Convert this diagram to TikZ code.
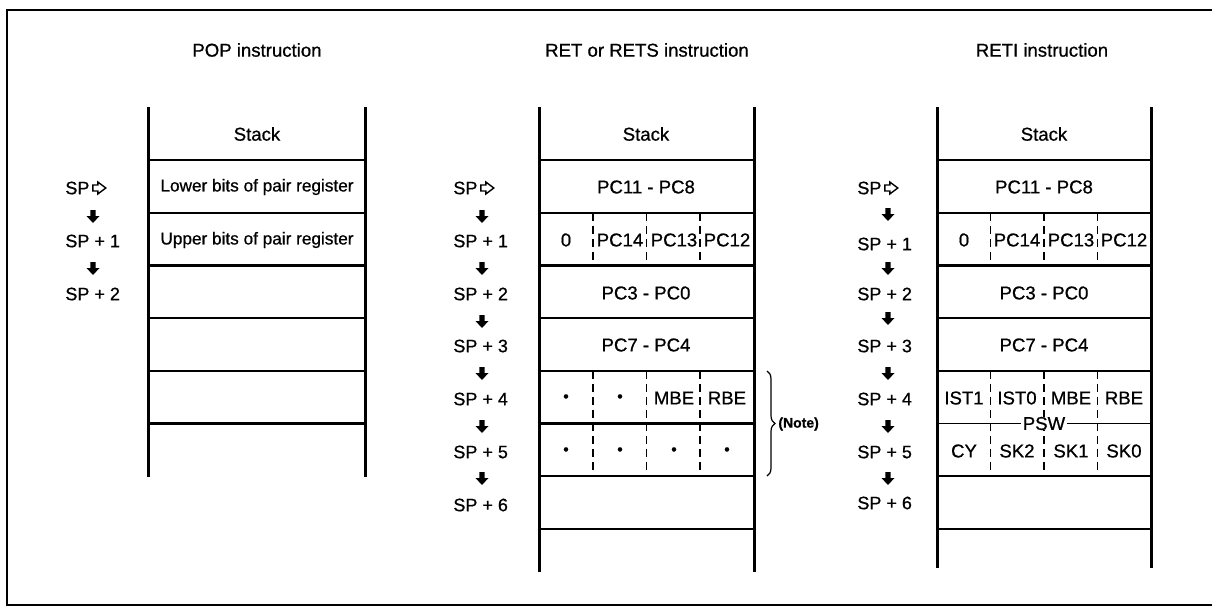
\documentclass[tikz,border=0pt]{standalone}
\usepackage{fontspec}
\setmainfont{Liberation Sans}[FakeBold=0.7]
\usetikzlibrary{decorations.pathreplacing,calc}
\begin{document}
\begin{tikzpicture}[x=0.5pt,y=-0.5pt,
  side/.style={line width=1.5pt},
  hline/.style={line width=1.2pt},
  divline/.style={line width=0.9pt,dash pattern=on 4pt off 2.5pt},
  frameline/.style={line width=1.3pt},
  txt/.style={font=\fontsize{9.3}{10}\selectfont, inner sep=0pt},
  smalltxt/.style={font=\fontsize{8.6}{10}\selectfont, inner sep=0pt},
  titletxt/.style={font=\fontsize{9.3}{10}\selectfont, inner sep=0pt},
  splabel/.style={font=\fontsize{9}{10}\selectfont, inner sep=0pt, anchor=west},
  dottxt/.style={font=\fontsize{8}{9}\selectfont, inner sep=0pt},
  notetxt/.style={font=\bfseries\fontsize{7}{8}\selectfont, inner sep=0pt, anchor=west},
  downarrow/.pic={\fill (-2.6,-6) -- (2.6,-6) -- (2.6,0) -- (6.5,0) -- (0,7) -- (-6.5,0) -- (-2.6,0) -- cycle;},
  hollowarrow/.pic={\draw[line width=0.7pt,line join=miter] (0,-3) -- (5,-3) -- (5,-6) -- (13,0) -- (5,6) -- (5,3) -- (0,3) -- cycle;},
]
\useasboundingbox (0,0) rectangle (1212,607);
% outer frame
\draw[frameline] (1216,10) -- (7,10) -- (7,605) -- (1216,605);

% ---------- Column A: POP ----------
\node[titletxt] (tA) at (257,50) {POP instruction};
\draw[side] (148,107) coordinate (aTL) -- (148,477) coordinate (aBL);
\draw[side] (365,107) coordinate (aTR) -- (365,477) coordinate (aBR);
\foreach \k in {0,...,5} {\draw[hline] (148,{160+52.7*\k}) -- (365,{160+52.7*\k});}
\node[txt] (sA) at (257,134) {Stack};
\node[smalltxt] (a0) at (257,187) {Lower bits of pair register};
\node[smalltxt] (a1) at (257,240) {Upper bits of pair register};
\node[splabel] (la0) at (65,188) {SP};
\pic at ($(la0.east)+(3,0)$) {hollowarrow};
\node[splabel] (la1) at (65,241) {SP + 1};
\node[splabel] (la2) at (65,294) {SP + 2};
\pic at (93,216) {downarrow};
\pic at (93,268) {downarrow};

% ---------- Column B: RET / RETS ----------
\node[titletxt] (tB) at (647,50) {RET or RETS instruction};
\draw[side] (539,107) -- (539,572);
\draw[side] (754,107) -- (754,572);
\foreach \k in {0,...,7} {\draw[hline] (539,{160+52.7*\k}) -- (754,{160+52.7*\k});}
\foreach \i in {1,2,3} {
  \draw[divline] ({539+53.75*\i},212.7) -- ({539+53.75*\i},265.4);
  \draw[divline] ({539+53.75*\i},370.8) -- ({539+53.75*\i},476.2);
}
\node[txt] (sB) at (646,134) {Stack};
\node[txt] (b0) at (646,187) {PC11 - PC8};
\node[txt] (b10) at (566,240) {0};
\node[txt] (b11) at (620,240) {PC14};
\node[txt] (b12) at (674,240) {PC13};
\node[txt] (b13) at (727,240) {PC12};
\node[txt] (b2) at (646,293) {PC3 - PC0};
\node[txt] (b3) at (646,345) {PC7 - PC4};
\node[dottxt] (b40) at (566,398) {\textbullet};
\node[dottxt] (b41) at (620,398) {\textbullet};
\node[txt] (b42) at (674,398) {MBE};
\node[txt] (b43) at (727,398) {RBE};
\node[dottxt] (b50) at (566,451) {\textbullet};
\node[dottxt] (b51) at (620,451) {\textbullet};
\node[dottxt] (b52) at (674,451) {\textbullet};
\node[dottxt] (b53) at (727,451) {\textbullet};
\coordinate (brTop) at (767,371);
\coordinate (brBot) at (767,476);
\draw[line width=0.6pt,decorate,decoration={brace,amplitude=4pt}] (brTop) -- (brBot);
\node[notetxt] (note) at (778,424) {(Note)};
\node[splabel] (lb0) at (453,188) {SP};
\pic at ($(lb0.east)+(3,0)$) {hollowarrow};
\node[splabel] (lb1) at (453,241) {SP + 1};
\node[splabel] (lb2) at (453,294) {SP + 2};
\node[splabel] (lb3) at (453,346) {SP + 3};
\node[splabel] (lb4) at (453,399) {SP + 4};
\node[splabel] (lb5) at (453,452) {SP + 5};
\node[splabel] (lb6) at (453,505) {SP + 6};
\foreach \y in {216,268,321,373,426,478} {\pic at (482,\y) {downarrow};}

% ---------- Column C: RETI ----------
\node[titletxt] (tC) at (1042,50) {RETI instruction};
\draw[side] (937,107) -- (937,568);
\draw[side] (1151,107) -- (1151,568);
\foreach \k in {0,1,2,3,4,6,7} {\draw[hline] (937,{160+52.7*\k}) -- (1151,{160+52.7*\k});}
\draw[line width=0.8pt] (937,423.5) -- (1151,423.5);
\foreach \i in {1,2,3} {
  \draw[divline] ({937+53.5*\i},212.7) -- ({937+53.5*\i},265.4);
  \draw[divline] ({937+53.5*\i},370.8) -- ({937+53.5*\i},476.2);
}
\node[txt] (sC) at (1044,134) {Stack};
\node[txt] (c0) at (1044,187) {PC11 - PC8};
\node[txt] (c10) at (964,240) {0};
\node[txt] (c11) at (1017,240) {PC14};
\node[txt] (c12) at (1071,240) {PC13};
\node[txt] (c13) at (1124,240) {PC12};
\node[txt] (c2) at (1044,293) {PC3 - PC0};
\node[txt] (c3) at (1044,345) {PC7 - PC4};
\node[txt] (c40) at (964,398) {IST1};
\node[txt] (c41) at (1017,398) {IST0};
\node[txt] (c42) at (1071,398) {MBE};
\node[txt] (c43) at (1124,398) {RBE};
\node[txt,fill=white,inner xsep=1pt] (psw) at (1044,423.5) {PSW};
\node[txt] (c50) at (964,451) {CY};
\node[txt] (c51) at (1017,451) {SK2};
\node[txt] (c52) at (1071,451) {SK1};
\node[txt] (c53) at (1124,451) {SK0};
\node[splabel] (lc0) at (857,188) {SP};
\pic at ($(lc0.east)+(3,0)$) {hollowarrow};
\node[splabel] (lc1) at (857,244) {SP + 1};
\node[splabel] (lc2) at (857,294) {SP + 2};
\node[splabel] (lc3) at (857,346) {SP + 3};
\node[splabel] (lc4) at (857,399) {SP + 4};
\node[splabel] (lc5) at (857,452) {SP + 5};
\node[splabel] (lc6) at (857,503) {SP + 6};
\foreach \y in {214,268,318,373,426,478} {\pic at (888,\y) {downarrow};}
\end{tikzpicture}
\end{document}
